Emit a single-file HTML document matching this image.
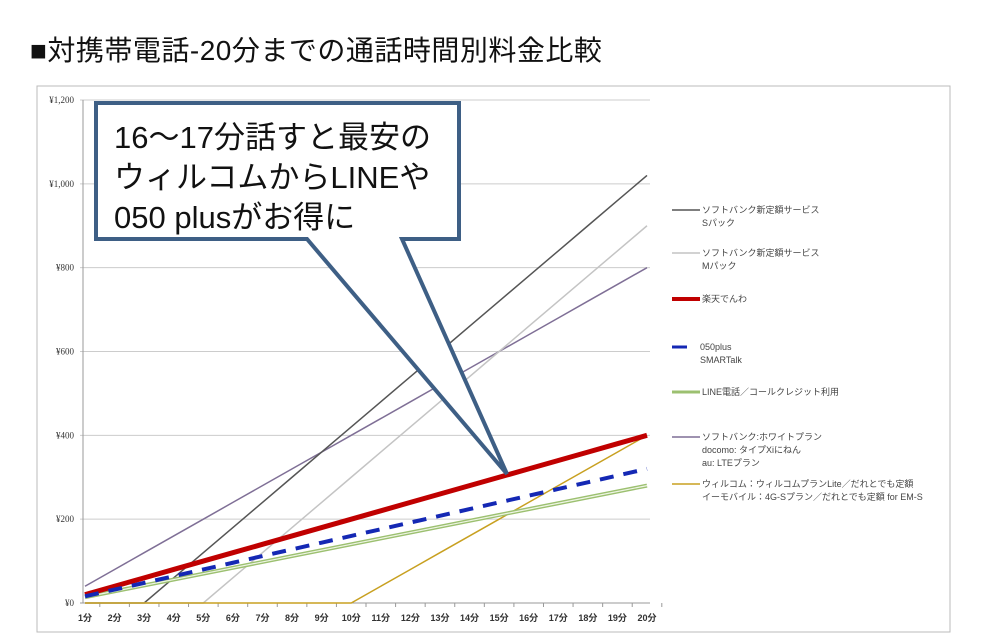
<!DOCTYPE html>
<html><head><meta charset="utf-8"><style>
body{margin:0;width:984px;height:636px;background:#fff;overflow:hidden;font-family:"Liberation Sans","Noto Sans CJK JP",sans-serif}
#title{position:absolute;left:30px;top:29px;font-size:28px;letter-spacing:0.5px;color:#111;white-space:nowrap}
svg{position:absolute;left:0;top:0}
</style></head><body>
<div id="title">■対携帯電話-20分までの通話時間別料金比較</div>
<svg id="chart" width="984" height="636"></svg>
<script>
const categories=["1分","2分","3分","4分","5分","6分","7分","8分","9分","10分","11分","12分","13分","14分","15分","16分","17分","18分","19分","20分"];
const yTicks=[0,200,400,600,800,1000,1200];
const yTickLabels=["¥0","¥200","¥400","¥600","¥800","¥1,000","¥1,200"];
const sPack=[0,0,0,60,120,180,240,300,360,420,480,540,600,660,720,780,840,900,960,1020];
const mPack=[0,0,0,0,0,60,120,180,240,300,360,420,480,540,600,660,720,780,840,900];
const rakuten=[20,40,60,80,100,120,140,160,180,200,220,240,260,280,300,320,340,360,380,400];
const plus050=[16,32,48,64,80,96,112,128,144,160,176,192,208,224,240,256,272,288,304,320];
const lineCall=[14,28,42,56,70,84,98,112,126,140,154,168,182,196,210,224,238,252,266,280];
const whitePlan=[40,80,120,160,200,240,280,320,360,400,440,480,520,560,600,640,680,720,760,800];
const willcom=[0,0,0,0,0,0,0,0,0,0,40,80,120,160,200,240,280,320,360,400];
const NS="http://www.w3.org/2000/svg";
const svg=document.getElementById('chart');
function el(t,a,p){const e=document.createElementNS(NS,t);for(const k in a)e.setAttribute(k,a[k]);(p||svg).appendChild(e);return e;}
const x=i=>85+i*(647-85)/(categories.length-1);
const y=v=>603-v*(503/1200);
let b=el('rect',{x:37,y:86,width:913,height:546,fill:'#fff',stroke:'#bbb','stroke-width':1});


yTicks.forEach((v,i)=>{
 let g=el('line',{x1:80,x2:650,y1:y(v),y2:y(v),stroke:v===0?'#999':'#ccc','stroke-width':1});
 
 
 let t=el('text',{x:74,y:y(v)+3,'text-anchor':'end','font-size':9,fill:'#333','font-family':'Liberation Serif, serif'});
 t.textContent=yTickLabels[i];
 
 
});
let ax=el('line',{x1:83,x2:83,y1:y(1200),y2:y(0),stroke:'#999'});


categories.forEach((c,i)=>{
 let t=el('text',{x:x(i),y:621,'text-anchor':'middle','font-size':9,'font-weight':'bold',fill:'#333'});
 t.textContent=c;
 
 
 let tk=el('line',{x1:x(i)+14.8,x2:x(i)+14.8,y1:603,y2:607,stroke:'#999'});
 
 
});
function pts(d){return d.map((v,i)=>x(i)+','+y(v)).join(' ');}
function series(d,stroke,w,name,dash){
 let p=el('polyline',{points:pts(d),fill:'none',stroke:stroke,'stroke-width':w});
 if(dash)p.setAttribute('stroke-dasharray',dash);
 
 
 return p;
}
series(whitePlan,'#7f6f96',1.5,'series-white-plan');
series(sPack,'#555',1.5,'series-s-pack');
series(mPack,'#c4c4c4',1.5,'series-m-pack');
series(willcom,'#c8a020',1.5,'series-willcom');
series(lineCall,'#9cc070',4,'series-line-call');
series(lineCall,'#eef5e4',1.2,'series-line-call-inner');
series(rakuten,'#c00000',5,'series-rakuten');
series(plus050,'#1428b4',4,'series-050plus','14,10');
const legend=[
 {c:'#555',w:1.5,t:['ソフトバンク新定額サービス','Sパック'],y:210},
 {c:'#c4c4c4',w:1.5,t:['ソフトバンク新定額サービス','Mパック'],y:253},
 {c:'#c00000',w:4,t:['楽天でんわ'],y:299},
 {c:'#1428b4',w:3,t:['050plus','SMARTalk'],y:347,short:true},
 {c:'#9cc070',w:3,t:['LINE電話／コールクレジット利用'],y:392},
 {c:'#7f6f96',w:1.5,t:['ソフトバンク:ホワイトプラン','docomo: タイプXiにねん','au: LTEプラン'],y:437},
 {c:'#c8a020',w:1.5,t:['ウィルコム：ウィルコムプランLite／だれとでも定額','イーモバイル：4G-Sプラン／だれとでも定額 for EM-S'],y:484}
];
legend.forEach(l=>{
 let s=el('line',{x1:672,x2:l.short?687:700,y1:l.y,y2:l.y,stroke:l.c,'stroke-width':l.w});
 
 
 l.t.forEach((tx,j)=>{
  let t=el('text',{x:l.short?700:702,y:l.y+3+j*13,'font-size':9,fill:'#444'});
  t.textContent=tx;
  
  
 });
});
let co=el('path',{d:'M96,103 H459 V239 H402 L507,474 L307,239 H96 Z',fill:'#fff',stroke:'#3e5f85','stroke-width':4,'stroke-linejoin':'miter'});


['16～17分話すと最安の','ウィルコムからLINEや','050 plusがお得に'].forEach((tx,j)=>{
 let t=el('text',{x:114,y:148+j*40,'font-size':31,fill:'#111'});
 t.textContent=tx;
 
 
});
</script>
</body></html>
